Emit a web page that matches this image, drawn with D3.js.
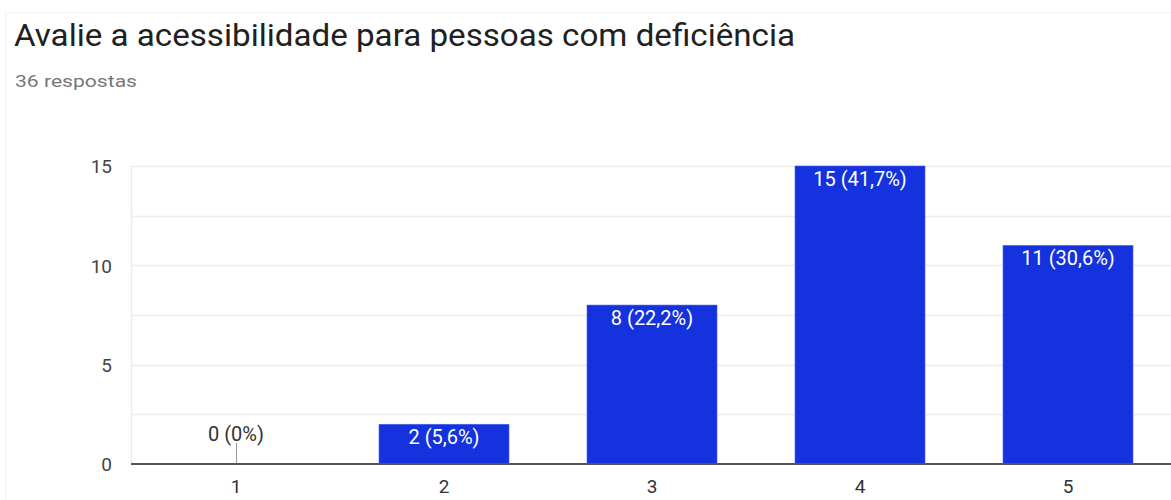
<!DOCTYPE html>
<html>
<head>
<meta charset="utf-8">
<script src="https://cdn.jsdelivr.net/npm/d3@7"></script>
<style>
  html, body { margin: 0; padding: 0; background: #fff; }
  svg { display: block; font-family: Roboto, Arial, sans-serif; }
</style>
</head>
<body>
<svg id="chart" width="1171" height="500"></svg>
<script>
const titleText = "Avalie a acessibilidade para pessoas com deficiência";
const subtitleText = "36 respostas";
const categories = ["1", "2", "3", "4", "5"];
const counts = [0, 2, 8, 15, 11];
const pctLabels = ["0%", "5,6%", "22,2%", "41,7%", "30,6%"];
const yTicks = [0, 5, 10, 15];
const yGrid = [2.5, 5, 7.5, 10, 12.5, 15];

(function () {
const svg = d3.select("#chart");
const W = 1171, H = 500;

// faint card border
svg.append("line").attr("x1", 5.5).attr("x2", 5.5).attr("y1", 12).attr("y2", H)
  .attr("stroke", "#f2f2f2").attr("stroke-width", 1);
svg.append("line").attr("x1", 5).attr("x2", W).attr("y1", 12.5).attr("y2", 12.5)
  .attr("stroke", "#f2f2f2").attr("stroke-width", 1);

svg.append("text").attr("x", 14).attr("y", 46)
  .attr("font-size", 31).attr("fill", "#212121").text(titleText)
  .attr("textLength", 781).attr("lengthAdjust", "spacingAndGlyphs");

svg.append("text").attr("x", 15).attr("y", 87)
  .attr("font-size", 16).attr("fill", "#777").text(subtitleText)
  .attr("textLength", 122).attr("lengthAdjust", "spacingAndGlyphs");

const pl = 131, pr = 1171, pt = 166, pb = 464;

const x = d3.scaleBand().domain(categories).range([pl + 1, pr + 1]).paddingInner(0.375).paddingOuter(0.1875);
const y = d3.scaleLinear().domain([0, 15]).range([pb, pt]);

// gridlines
svg.append("g").selectAll("line").data(yGrid).join("line")
  .attr("x1", pl).attr("x2", pr)
  .attr("y1", d => Math.round(y(d)) + 0.5).attr("y2", d => Math.round(y(d)) + 0.5)
  .attr("stroke", "#ececec").attr("stroke-width", 1.5);
// left plot border
svg.append("line").attr("x1", pl + 0.5).attr("x2", pl + 0.5)
  .attr("y1", pt).attr("y2", pb).attr("stroke", "#ececec").attr("stroke-width", 1.5);

// y axis labels
const yAxis = d3.axisLeft(y).tickValues(yTicks).tickSize(0).tickPadding(0).tickFormat(d3.format("d"));
const gy = svg.append("g").attr("transform", `translate(${pl - 19},0)`).call(yAxis);
gy.select(".domain").remove();
gy.selectAll("text").attr("font-size", 19).attr("fill", "#444").attr("font-family", "Roboto, Arial, sans-serif")
  .attr("dy", "0.36em");

// bars
const data = categories.map((c, i) => ({ c, v: counts[i], p: pctLabels[i] }));
svg.append("g").selectAll("rect").data(data.filter(d => d.v > 0)).join("rect")
  .attr("x", d => x(d.c)).attr("width", x.bandwidth())
  .attr("y", d => y(d.v)).attr("height", d => y(0) - y(d.v))
  .attr("fill", "#1432dd").attr("stroke", "#4a63e6").attr("stroke-width", 0.6);

// value labels
svg.append("g").selectAll("text").data(data).join("text")
  .attr("x", d => x(d.c) + x.bandwidth() / 2)
  .attr("y", d => d.v > 0 ? y(d.v) + 20 : y(0) - 23)
  .attr("text-anchor", "middle").attr("font-size", 20)
  .attr("fill", d => d.v > 0 ? "#fff" : "#333")
  .text(d => `${d.v} (${d.p})`);

// zero leader line
svg.append("g").selectAll("line").data(data.filter(d => d.v === 0)).join("line")
  .attr("x1", d => x(d.c) + x.bandwidth() / 2 + 0.5).attr("x2", d => x(d.c) + x.bandwidth() / 2 + 0.5)
  .attr("y1", y(0) - 21).attr("y2", y(0)).attr("stroke", "#999").attr("stroke-width", 1);

// baseline
svg.append("line").attr("x1", pl).attr("x2", pr).attr("y1", pb).attr("y2", pb)
  .attr("stroke", "#555").attr("stroke-width", 2);

// x axis labels
const xAxis = d3.axisBottom(x).tickSize(0).tickPadding(0);
const gx = svg.append("g").attr("transform", `translate(0,${pb})`).call(xAxis);
gx.select(".domain").remove();
gx.selectAll("text").attr("font-size", 19).attr("fill", "#333").attr("font-family", "Roboto, Arial, sans-serif")
  .attr("dy", null).attr("y", 29);
})();
</script>
</body>
</html>
